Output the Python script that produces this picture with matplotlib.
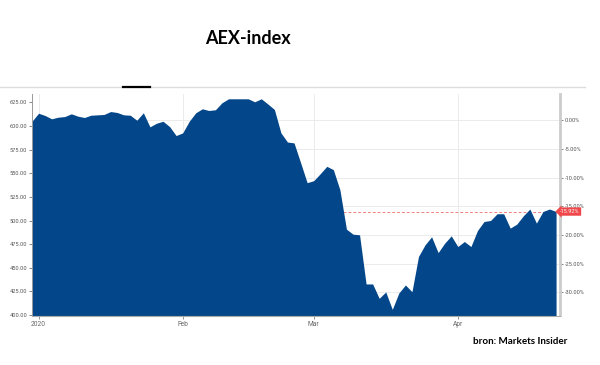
import matplotlib.pyplot as plt
import matplotlib.transforms as mtransforms
import numpy as np
import pandas as pd

# trading days shown on the chart (Jan 1 is a holiday)
dates = [d for d in pd.bdate_range("2019-12-31", "2020-04-22")
         if d != pd.Timestamp("2020-01-01")]

# AEX closing values
aex = [605.1, 613.6, 611.2, 607.7, 609.4, 610.1, 613.0, 610.5, 609.1, 611.5,
       611.9, 612.3, 615.4, 614.4, 611.9, 611.5, 606.2, 614.1, 599.2, 603.0,
       605.1, 599.5, 590.0, 592.8, 605.1, 614.1, 618.3, 616.5, 617.3, 624.7,
       628.9, 628.9, 628.9, 628.9, 625.7, 628.9, 623.4, 617.6, 592.8, 583.1,
       582.2, 561.3, 540.1, 542.2, 549.6, 557.4, 553.9, 532.6, 490.9, 485.6,
       484.9, 432.9, 432.9, 417.7, 424.4, 406.0, 423.3, 431.8, 424.7, 462.0,
       474.3, 482.8, 466.1, 476.1, 483.8, 472.5, 477.8, 472.5, 489.4, 499.0,
       500.1, 507.2, 507.2, 492.0, 496.2, 505.0, 512.2, 497.3, 509.6, 512.2,
       509.6]

base = 606.0          # reference level for the % axis
last_change = -15.92  # % change shown in the red label

month_starts = ["2020-01-01", "2020-02-01", "2020-03-01", "2020-04-01"]
month_labels = ["2020", "Feb", "Mar", "Apr"]
left_ticks = [400, 425, 450, 475, 500, 525, 550, 575, 600, 625]
pct_ticks = [0, -5, -10, -15, -20, -25, -30]

x = np.arange(len(dates))
month_pos = [next(i for i, d in enumerate(dates) if d >= pd.Timestamp(m))
             for m in month_starts]

fig = plt.figure(figsize=(6, 3.65), dpi=100)
fig.patch.set_facecolor("white")

# screenshot tab strip at the top
fig.add_artist(plt.Line2D([0, 585 / 600], [278 / 365, 278 / 365],
                          color="#dddddd", lw=1, transform=fig.transFigure))
fig.add_artist(plt.Line2D([123 / 600, 150 / 600], [278 / 365, 278 / 365],
                          color="black", lw=1.6, transform=fig.transFigure))

fig.text(248 / 600, 327 / 365, "AEX-index", family="Lato", weight="bold",
         fontsize=13, ha="center", va="center")
fig.text(567 / 600, 23 / 365, "bron: Markets Insider", family="Lato",
         weight="bold", fontsize=7.1, ha="right", va="center")

ax = fig.add_axes([32 / 600, 49.5 / 365, 528 / 600, 222 / 365])
ylo, yhi = 399.5, 634.5
ax.set_xlim(0, len(x) - 1 + 0.6)
ax.set_ylim(ylo, yhi)

# horizontal grid at the % levels, vertical grid at month starts
for p in pct_ticks:
    ax.axhline(base * (1 + p / 100), color="#ebebeb", lw=0.7, zorder=0)
for m in month_pos:
    ax.axvline(m, color="#ebebeb", lw=0.7, zorder=0)

last_level = base * (1 + last_change / 100)
ax.axhline(last_level, color="#f08080", lw=0.7, ls=(0, (3, 2)), zorder=1)

ax.fill_between(x, aex, ylo, color="#03478a", lw=0, zorder=2)

ax.set_yticks(left_ticks)
ax.set_yticklabels([f"{v:.2f}" for v in left_ticks])
ax.set_xticks(month_pos)
ax.set_xticklabels(month_labels)
ax.tick_params(axis="y", labelsize=4.1, colors="#555555", length=2, width=0.5, pad=1.5)
ax.tick_params(axis="x", labelsize=4.8, colors="#666666", length=2.5, width=0.5, pad=1.5)
for lab in ax.get_xticklabels() + ax.get_yticklabels():
    lab.set_family("Roboto")

ax.spines["top"].set_visible(False)
ax.spines["left"].set_color("#999999")
ax.spines["left"].set_linewidth(0.7)
ax.spines["bottom"].set_color("#aaaaaa")
ax.spines["bottom"].set_linewidth(0.8)
ax.spines["right"].set_color("#cccccc")
ax.spines["right"].set_linewidth(2)

sec = ax.secondary_yaxis("right", functions=(lambda v: (v / base - 1) * 100,
                                             lambda p: base * (1 + p / 100)))
sec.set_yticks(pct_ticks)
sec.set_yticklabels([f"{p:.2f}%" for p in pct_ticks])
sec.tick_params(labelsize=4.1, colors="#555555", length=2, width=0.5, pad=1.5)
sec.spines["right"].set_visible(False)
for lab in sec.get_yticklabels():
    lab.set_family("Roboto")

trans = mtransforms.blended_transform_factory(ax.transAxes, ax.transData)
ax.text(1.0, last_level, f"{last_change:.2f}%", transform=trans, fontsize=4,
        family="Roboto", color="white", ha="left", va="center", zorder=5,
        bbox=dict(boxstyle="larrow,pad=0.3", fc="#f0484a", ec="none"))

fig.savefig("out.png", dpi=100)
